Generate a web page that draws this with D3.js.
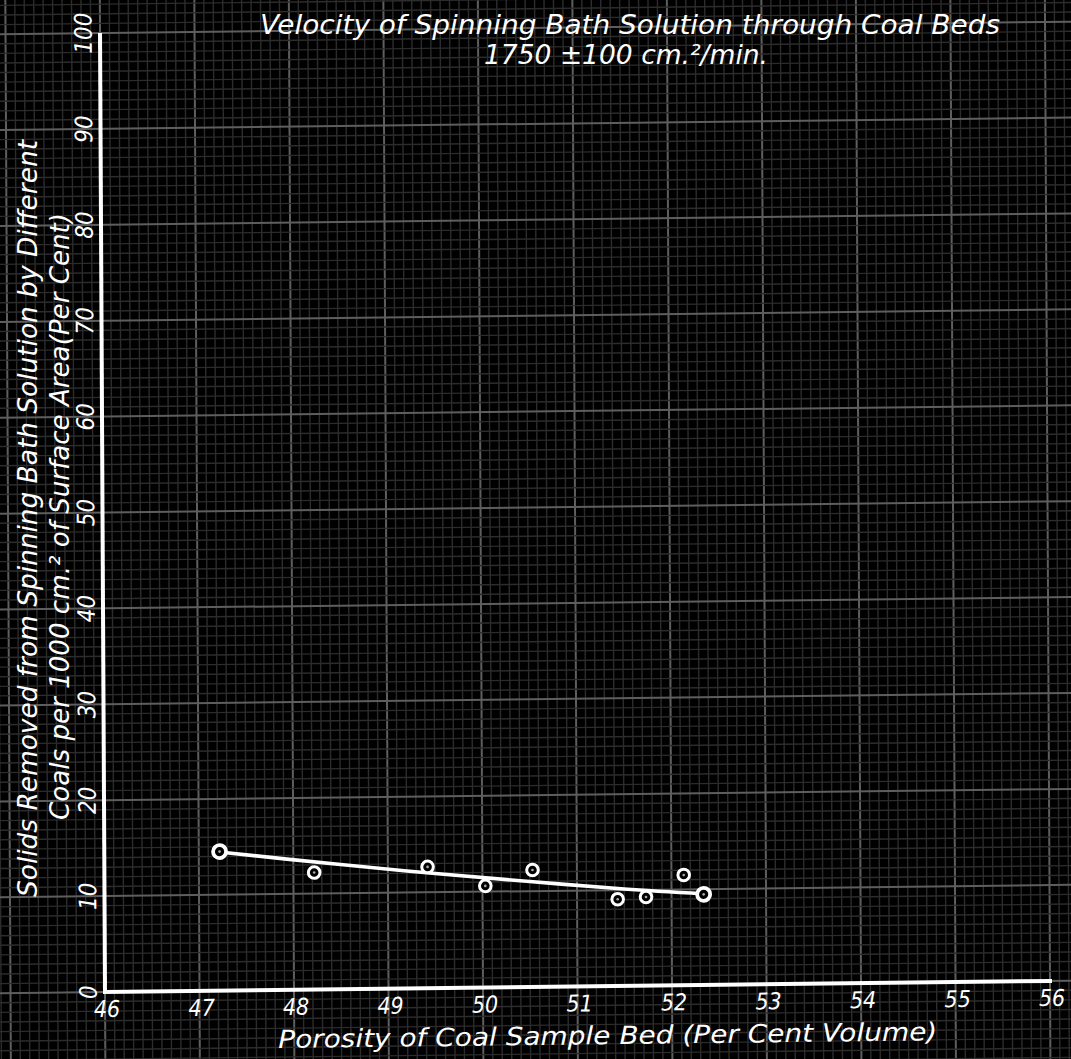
<!DOCTYPE html>
<html>
<head>
<meta charset="utf-8">
<script src="https://cdn.jsdelivr.net/npm/d3@7"></script>
<style>
  html, body { margin: 0; padding: 0; background: #000; }
  svg { display: block; }
  text { fill: #fff; font-family: "DejaVu Sans Condensed", "Liberation Sans Narrow", "DejaVu Sans", sans-serif; font-style: italic; }
</style>
</head>
<body>
<svg id="chart" width="1071" height="1059"></svg>
<script>
// measured points (porosity %, solids removed %)
var porosity = [47.22, 48.22, 49.42, 50.03, 50.53, 51.43, 51.73, 52.13, 52.34];
var solids   = [14.5, 12.2, 12.65, 10.6, 12.2, 9.05, 9.25, 11.5, 9.45];

// hand drawn fitted curve
var fitPorosity = [47.22, 48.5, 49.5, 50.5, 51.5, 52.34];
var fitSolids   = [14.45, 13.0, 11.95, 11.0, 10.1, 9.5];

var xTicks = [46, 47, 48, 49, 50, 51, 52, 53, 54, 55, 56];
var yTicks = [0, 10, 20, 30, 40, 50, 60, 70, 80, 90, 100];

var titleLines = ["Velocity of Spinning Bath Solution through Coal Beds", "1750 \u00b1100 cm.\u00b2/min."];
var yTitleLines = ["Solids Removed from Spinning Bath Solution by Different",
                   "Coals per 1000 cm.\u00b2 of Surface Area(Per Cent)"];
var xTitle = "Porosity of Coal Sample Bed (Per Cent Volume)";

var W = 1071, H = 1059;
var svg = d3.select("#chart");

svg.append("rect").attr("width", W).attr("height", H).attr("fill", "#000");

var x = d3.scaleLinear().domain([46, 56]).range([105, 1050]);
var y = d3.scaleLinear().domain([0, 100]).range([992, 33]);

// the photographed sheet is slightly skewed
var skX = 0.0052, skY = -0.0117;
var paper = svg.append("g")
    .attr("transform", "matrix(1," + skY + "," + skX + ",1," + (-skX * 992) + "," + (-skY * 105) + ")");

// graph paper grid, covers the whole sheet
var grid = paper.append("g");
var vLines = d3.range(440, 566);
var hLines = d3.range(-10, 108);

grid.selectAll("line.v")
    .data(vLines)
    .enter().append("line")
    .attr("class", "v")
    .attr("x1", function (d) { return x(d / 10); })
    .attr("x2", function (d) { return x(d / 10); })
    .attr("y1", -60).attr("y2", H + 60)
    .attr("stroke", function (d) { return d % 10 === 0 ? "#5e5e5e" : "#2c2c2c"; })
    .attr("stroke-width", function (d) { return d % 10 === 0 ? 2 : 1.4; });

grid.selectAll("line.h")
    .data(hLines)
    .enter().append("line")
    .attr("class", "h")
    .attr("y1", function (d) { return y(d); })
    .attr("y2", function (d) { return y(d); })
    .attr("x1", -60).attr("x2", W + 60)
    .attr("stroke", function (d) { return d % 10 === 0 ? "#5e5e5e" : "#2c2c2c"; })
    .attr("stroke-width", function (d) { return d % 10 === 0 ? 2 : 1.4; });

// axes (plain white lines, no ticks)
paper.append("line")
    .attr("x1", x(46)).attr("x2", x(56))
    .attr("y1", y(0)).attr("y2", y(0))
    .attr("stroke", "#fff").attr("stroke-width", 4).attr("stroke-linecap", "square");
paper.append("line")
    .attr("x1", x(46)).attr("x2", x(46))
    .attr("y1", y(0)).attr("y2", y(100))
    .attr("stroke", "#fff").attr("stroke-width", 4);

// tick labels
paper.selectAll("text.xt")
    .data(xTicks)
    .enter().append("text")
    .attr("class", "xt")
    .attr("x", function (d) { return x(d) + 2; })
    .attr("y", 1017)
    .attr("text-anchor", "middle")
    .attr("font-size", 23)
    .text(function (d) { return d; });

paper.selectAll("text.yt")
    .data(yTicks)
    .enter().append("text")
    .attr("class", "yt")
    .attr("transform", function (d) { return "translate(88," + y(d) + ") rotate(-90)"; })
    .attr("text-anchor", "middle")
    .attr("dy", "0.36em")
    .attr("font-size", 24)
    .text(function (d) { return d; });

// x axis title
paper.append("text")
    .attr("x", 278).attr("y", 1050)
    .attr("font-size", 25)
    .attr("textLength", 659).attr("lengthAdjust", "spacingAndGlyphs")
    .text(xTitle);

// fitted curve
var line = d3.line()
    .x(function (d) { return x(d[0]); })
    .y(function (d) { return y(d[1]); })
    .curve(d3.curveCatmullRom);

paper.append("path")
    .datum(d3.zip(fitPorosity, fitSolids))
    .attr("d", line)
    .attr("fill", "none")
    .attr("stroke", "#fff")
    .attr("stroke-width", 3.6)
    .attr("stroke-linecap", "round");

// data circles
var last = porosity.length - 1;
var pts = paper.selectAll("g.pt")
    .data(d3.zip(porosity, solids))
    .enter().append("g")
    .attr("class", "pt")
    .attr("transform", function (d) { return "translate(" + x(d[0]) + "," + y(d[1]) + ")"; });

pts.append("circle")
    .attr("r", function (d, i) { return (i === 0 || i === last) ? 6.5 : 5.8; })
    .attr("fill", "#000")
    .attr("stroke", "#fff")
    .attr("stroke-width", function (d, i) { return (i === 0 || i === last) ? 3.8 : 3; });

pts.append("circle")
    .attr("r", 1.3)
    .attr("fill", "#aaa");

// chart title
svg.append("text")
    .attr("x", 260).attr("y", 34)
    .attr("font-size", 26)
    .attr("textLength", 740).attr("lengthAdjust", "spacingAndGlyphs")
    .text(titleLines[0]);
svg.append("text")
    .attr("x", 484).attr("y", 64)
    .attr("font-size", 26)
    .attr("textLength", 284).attr("lengthAdjust", "spacingAndGlyphs")
    .text(titleLines[1]);

// y axis title (two lines, reading upwards)
svg.append("text")
    .attr("transform", "translate(37,897) rotate(-90)")
    .attr("font-size", 26)
    .attr("textLength", 757).attr("lengthAdjust", "spacingAndGlyphs")
    .text(yTitleLines[0]);
svg.append("text")
    .attr("transform", "translate(69,820) rotate(-90)")
    .attr("font-size", 26)
    .attr("textLength", 607).attr("lengthAdjust", "spacingAndGlyphs")
    .text(yTitleLines[1]);
</script>
</body>
</html>
